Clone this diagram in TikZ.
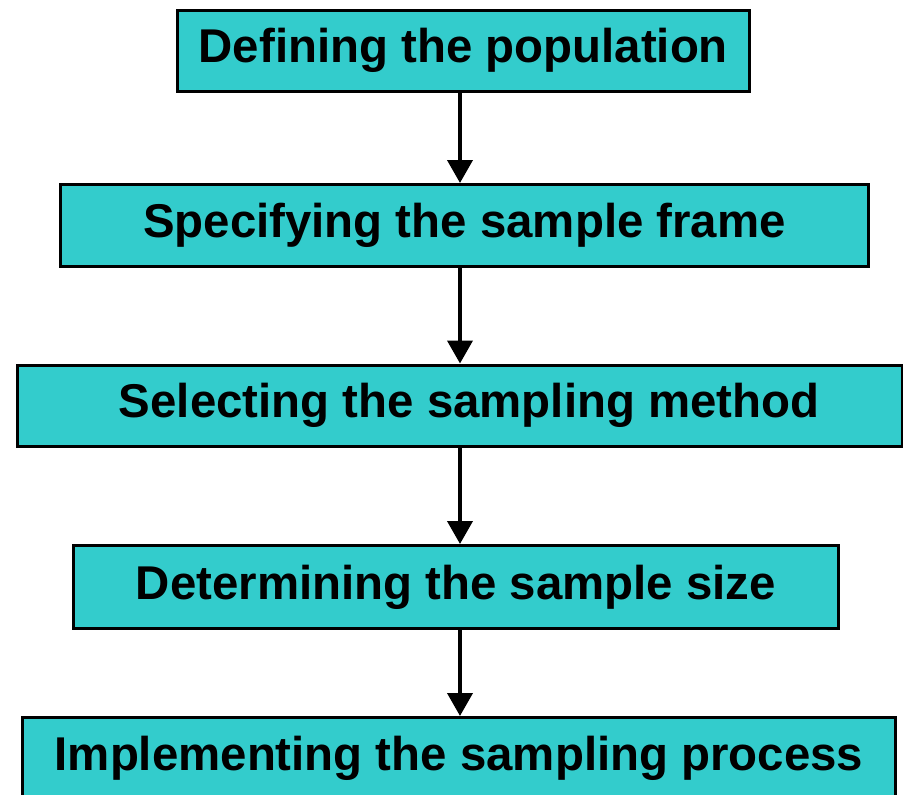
\documentclass[tikz,border=0pt]{standalone}
\usepackage{fontspec}
\setmainfont{Liberation Sans}
\usetikzlibrary{arrows.meta}
\definecolor{boxfill}{HTML}{33CCCC}
\begin{document}
\begin{tikzpicture}[x=1pt,y=-1pt,
  stepbox/.style={draw=black,line width=3pt,fill=boxfill,rectangle,inner sep=0pt,
    font=\fontsize{47.4}{56}\selectfont\bfseries,text=black},
  flowarrow/.style={line width=4pt,-{Triangle[length=23pt,width=25pt]}}]
\useasboundingbox (0,0) rectangle (903,795);
\node[stepbox,minimum width=572.5pt,minimum height=81.5pt] (b1) at (463.3,50.75) {Defining the population};
\node[stepbox,minimum width=808pt,minimum height=82pt] (b2) at (464.5,225.5) {Specifying the sample frame};
\node[stepbox,minimum width=884.5pt,minimum height=81.5pt] (b3) at (459.75,405.75) {\hspace*{19pt}Selecting the sampling method};
\node[stepbox,minimum width=765pt,minimum height=83pt] (b4) at (456,587) {Determining the sample size};
\node[stepbox,minimum width=873pt,minimum height=82.5pt] (b5) at (459,758.75) {Implementing the sampling process};
\coordinate (ax) at (460,0);
\draw[flowarrow] (b1.south -| ax) -- (b2.north -| ax);
\draw[flowarrow] (b2.south -| ax) -- (b3.north -| ax);
\draw[flowarrow] (b3.south -| ax) -- (b4.north -| ax);
\draw[flowarrow] (b4.south -| ax) -- (b5.north -| ax);
\end{tikzpicture}
\end{document}
